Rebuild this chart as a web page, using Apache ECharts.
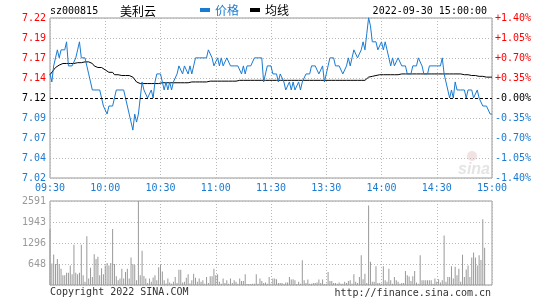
<!DOCTYPE html>
<html><head><meta charset="utf-8">
<script src="https://cdn.jsdelivr.net/npm/echarts@6/dist/echarts.min.js"></script>
<style>html,body{margin:0;padding:0;background:#fff}#c{width:545px;height:300px}</style>
</head><body><div id="c"></div>
<script>
const stockCode = 'sz000815';
const stockName = '美利云';
const dateTime = '2022-09-30 15:00:00';
const seriesNames = ['价格', '均线'];
const preClose = 7.12;
const rangePct = 1.4;
const timeLabels = ['09:30','10:00','10:30','11:00','11:30','13:30','14:00','14:30','15:00'];
const priceLabels = ['7.02','7.04','7.07','7.09','7.12','7.14','7.17','7.19','7.22'];
const pctLabels = ['-1.40%','-1.05%','-0.70%','-0.35%','-0.00%','+0.35%','+0.70%','+1.05%','+1.40%'];
const volLabels = ['','648','1296','1943','2591'];
const volMax = 2591;
const copyrightText = 'Copyright 2022 SINA.COM';
const siteText = 'http://finance.sina.com.cn';

const price = [
7.15,7.14,7.16,7.17,7.18,7.17,7.18,7.18,7.18,7.19,
7.16,7.16,7.16,7.16,7.17,7.18,7.19,7.17,7.17,7.17,
7.16,7.15,7.14,7.13,7.13,7.13,7.13,7.13,7.12,7.11,
7.11,7.10,7.11,7.11,7.11,7.12,7.13,7.13,7.13,7.13,
7.13,7.12,7.11,7.10,7.09,7.08,7.10,7.09,7.10,7.12,
7.14,7.13,7.13,7.12,7.12,7.13,7.12,7.14,7.15,7.15,
7.15,7.15,7.13,7.14,7.13,7.14,7.13,7.14,7.14,7.15,
7.16,7.16,7.15,7.16,7.16,7.15,7.16,7.15,7.16,7.17,
7.17,7.17,7.17,7.17,7.17,7.17,7.18,7.18,7.17,7.16,
7.16,7.17,7.16,7.17,7.16,7.16,7.17,7.17,7.16,7.16,
7.16,7.16,7.16,7.16,7.15,7.16,7.15,7.16,7.16,7.16,
7.16,7.17,7.17,7.17,7.17,7.17,7.14,7.14,7.16,7.16,
7.16,7.15,7.15,7.15,7.14,7.15,7.15,7.14,7.13,7.13,
7.14,7.13,7.14,7.13,7.13,7.14,7.13,7.14,7.14,7.15,
7.15,7.15,7.16,7.16,7.16,7.16,7.15,7.15,7.16,7.14,
7.15,7.16,7.17,7.17,7.17,7.16,7.16,7.16,7.16,7.15,
7.15,7.16,7.17,7.16,7.17,7.18,7.18,7.17,7.17,7.18,
7.19,7.18,7.20,7.22,7.21,7.19,7.19,7.19,7.18,7.18,
7.19,7.18,7.19,7.18,7.17,7.16,7.17,7.16,7.16,7.17,
7.17,7.16,7.16,7.16,7.15,7.15,7.15,7.16,7.16,7.16,
7.17,7.17,7.16,7.15,7.15,7.15,7.16,7.16,7.16,7.16,
7.16,7.16,7.16,7.17,7.15,7.14,7.14,7.12,7.13,7.12,
7.14,7.13,7.13,7.13,7.13,7.13,7.12,7.13,7.13,7.13,
7.12,7.12,7.13,7.12,7.12,7.11,7.11,7.11,7.11,7.10,
7.10
];

const avgPrice = [
7.149,7.150,7.155,7.158,7.160,7.161,7.162,7.163,7.163,7.163,
7.163,7.163,7.163,7.163,7.163,7.164,7.164,7.164,7.165,7.165,
7.165,7.165,7.163,7.163,7.160,7.158,7.158,7.158,7.158,7.158,
7.155,7.155,7.152,7.152,7.152,7.149,7.149,7.149,7.148,7.148,
7.148,7.148,7.148,7.148,7.146,7.146,7.146,7.140,7.138,7.138,
7.138,7.138,7.138,7.138,7.138,7.138,7.138,7.138,7.138,7.138,
7.138,7.139,7.139,7.139,7.139,7.139,7.139,7.139,7.139,7.139,
7.139,7.139,7.139,7.139,7.139,7.139,7.140,7.140,7.140,7.140,
7.140,7.140,7.140,7.140,7.140,7.140,7.140,7.141,7.141,7.141,
7.141,7.141,7.141,7.141,7.141,7.141,7.141,7.141,7.141,7.141,
7.141,7.141,7.141,7.142,7.142,7.142,7.142,7.142,7.142,7.142,
7.142,7.142,7.142,7.142,7.142,7.142,7.142,7.142,7.142,7.142,
7.142,7.142,7.142,7.142,7.142,7.142,7.142,7.142,7.142,7.142,
7.142,7.142,7.142,7.142,7.142,7.142,7.142,7.142,7.142,7.142,
7.142,7.142,7.142,7.142,7.142,7.142,7.142,7.142,7.142,7.142,
7.142,7.142,7.142,7.142,7.142,7.142,7.142,7.142,7.142,7.142,
7.142,7.142,7.142,7.142,7.142,7.142,7.142,7.142,7.142,7.142,
7.142,7.142,7.143,7.146,7.147,7.147,7.148,7.148,7.149,7.149,
7.149,7.149,7.149,7.149,7.149,7.149,7.149,7.149,7.149,7.149,
7.150,7.150,7.150,7.150,7.150,7.150,7.150,7.150,7.150,7.150,
7.150,7.150,7.150,7.150,7.150,7.150,7.150,7.150,7.150,7.150,
7.150,7.150,7.150,7.150,7.150,7.150,7.150,7.150,7.150,7.150,
7.150,7.150,7.150,7.150,7.149,7.149,7.149,7.149,7.148,7.148,
7.148,7.148,7.147,7.147,7.147,7.147,7.146,7.146,7.146,7.146,
7.146
];

const volume = [
1727,660,940,650,800,650,500,300,300,380,
380,600,330,1240,380,330,380,1240,300,100,
1500,200,530,250,950,800,870,300,520,330,
600,680,600,680,1730,650,270,150,200,500,
200,400,500,200,850,650,620,150,2591,300,
1060,280,200,60,200,100,230,300,150,550,
620,420,150,50,200,80,40,100,250,60,
470,470,80,100,220,330,50,150,350,220,
100,200,100,150,40,250,60,270,270,500,
300,330,100,40,200,60,150,40,200,60,
150,100,40,200,120,120,330,30,30,30,
40,40,330,40,200,120,60,80,40,250,
40,200,200,180,60,60,60,30,80,80,
250,170,180,150,30,100,40,760,150,60,
170,40,40,60,60,80,170,60,170,30,
40,400,120,120,60,60,40,80,40,40,
100,60,120,150,40,330,100,60,250,920,
180,350,60,2450,720,100,100,580,60,60,
40,580,150,100,500,150,40,250,150,100,
40,60,60,430,300,260,120,270,430,80,
40,920,150,150,150,150,150,150,40,200,
100,180,80,150,1530,100,250,250,580,200,
560,300,500,100,930,250,480,600,250,850,
1000,850,600,920,770,2030,1150,0,0,0,
0
];

const BLUE = '#1a7bd2', RED = '#ff0000', GREY = '#999999', GRIDC = '#b8b8b8';
const MONO = 'DejaVu Sans Mono';
const CJK = 'Noto Sans CJK SC';
const lo = preClose * (1 - rangePct / 100), hi = preClose * (1 + rangePct / 100);
const pairs = arr => arr.map((v, i) => [i, v]);
const dotted = { color: GRIDC, type: [1, 2], width: 1 };
const signColor = v => { v = Number(v); return v > 0 ? RED : (v < 0 ? BLUE : '#000'); };

const chart = echarts.init(document.getElementById('c'), null, { renderer: 'canvas' });
chart.setOption({
  animation: false,
  backgroundColor: '#fff',
  grid: [
    { left: 50, top: 18, width: 442, height: 160, show: true, borderColor: GREY, borderWidth: 1, containLabel: false },
    { left: 50, top: 201, width: 442, height: 84, show: true, borderColor: GREY, borderWidth: 1, containLabel: false }
  ],
  legend: {
    left: 200, top: 4, padding: 0, itemWidth: 10, itemHeight: 4, itemGap: 11, icon: 'rect',
    textStyle: { fontSize: 12, fontFamily: CJK },
    data: [
      { name: seriesNames[0], itemStyle: { color: BLUE }, textStyle: { color: BLUE } },
      { name: seriesNames[1], itemStyle: { color: '#000' }, textStyle: { color: '#000' } }
    ]
  },
  xAxis: [
    { type: 'value', gridIndex: 0, min: 0, max: 240, interval: 30,
      axisLine: { show: false }, axisTick: { show: false },
      axisLabel: { color: BLUE, fontFamily: MONO, fontSize: 10, margin: 5,
        formatter: v => timeLabels[Math.round(v / 30)] },
      splitLine: { show: true, lineStyle: dotted } },
    { type: 'value', gridIndex: 1, min: 0, max: 240, interval: 30,
      axisLine: { show: false }, axisTick: { show: false }, axisLabel: { show: false },
      splitLine: { show: true, lineStyle: dotted } }
  ],
  yAxis: [
    { type: 'value', gridIndex: 0, min: lo, max: hi, show: false },
    { type: 'value', gridIndex: 0, min: -4, max: 4, interval: 1, position: 'left',
      axisLine: { show: false }, axisTick: { show: false },
      axisLabel: { fontFamily: MONO, fontSize: 10, margin: 4,
        formatter: v => priceLabels[Math.round(v) + 4], color: signColor },
      splitLine: { show: true, lineStyle: { color: [GRIDC, GRIDC, GRIDC, GRIDC, 'rgba(0,0,0,0)', GRIDC, GRIDC, GRIDC, GRIDC], type: [1, 2], width: 1 } } },
    { type: 'value', gridIndex: 0, min: -4, max: 4, interval: 1, position: 'right',
      axisLine: { show: false }, axisTick: { show: false },
      axisLabel: { fontFamily: MONO, fontSize: 10, margin: 3,
        formatter: v => pctLabels[Math.round(v) + 4], color: signColor },
      splitLine: { show: false } },
    { type: 'value', gridIndex: 1, min: 0, max: volMax, show: false },
    { type: 'value', gridIndex: 1, min: 0, max: 4, interval: 1, position: 'left',
      axisLine: { show: false }, axisTick: { show: false },
      axisLabel: { fontFamily: MONO, fontSize: 10, margin: 4, color: GREY,
        formatter: v => volLabels[Math.round(v)] },
      splitLine: { show: true, lineStyle: dotted } }
  ],
  series: [
    { name: seriesNames[0], type: 'line', xAxisIndex: 0, yAxisIndex: 0, data: pairs(price),
      symbol: 'none', showSymbol: false, clip: false, color: BLUE, lineStyle: { width: 1, color: BLUE }, z: 4,
      markLine: { silent: true, symbol: 'none', label: { show: false },
        lineStyle: { color: '#000', type: [3, 2], width: 1 }, data: [{ yAxis: preClose }] } },
    { name: seriesNames[1], type: 'line', xAxisIndex: 0, yAxisIndex: 0, data: pairs(avgPrice),
      symbol: 'none', showSymbol: false, color: '#000', lineStyle: { width: 1, color: '#000' }, z: 3 },
    { name: 'vol', type: 'bar', xAxisIndex: 1, yAxisIndex: 3, data: pairs(volume),
      barWidth: 1, itemStyle: { color: GREY }, z: 3 }
  ],
  graphic: [
    { type: 'text', z: 10, style: { text: stockCode, x: 50, y: 11, font: '10px ' + MONO, fill: '#000', verticalAlign: 'middle' } },
    { type: 'text', z: 10, style: { text: stockName, x: 120, y: 11, font: '12px ' + CJK, fill: '#000', verticalAlign: 'middle' } },
    { type: 'text', z: 10, style: { text: dateTime, x: 487, y: 11, font: '10px ' + MONO, fill: '#000', align: 'right', verticalAlign: 'middle' } },
    { type: 'text', z: 10, style: { text: copyrightText, x: 50, y: 292, font: '10px ' + MONO, fill: '#333', verticalAlign: 'middle' } },
    { type: 'text', z: 10, style: { text: siteText, x: 491, y: 293, font: '10px ' + MONO, fill: '#333', align: 'right', verticalAlign: 'middle' } },
    { type: 'circle', z: 0, shape: { cx: 472, cy: 156, r: 5 }, style: { fill: '#f3e2e2' } },
    { type: 'text', z: 0, style: { text: 'sina', x: 474, y: 170, font: 'italic bold 16px "Liberation Sans"', fill: '#e4e4e4', align: 'center', verticalAlign: 'middle' } }
  ]
});
</script>
</body></html>
